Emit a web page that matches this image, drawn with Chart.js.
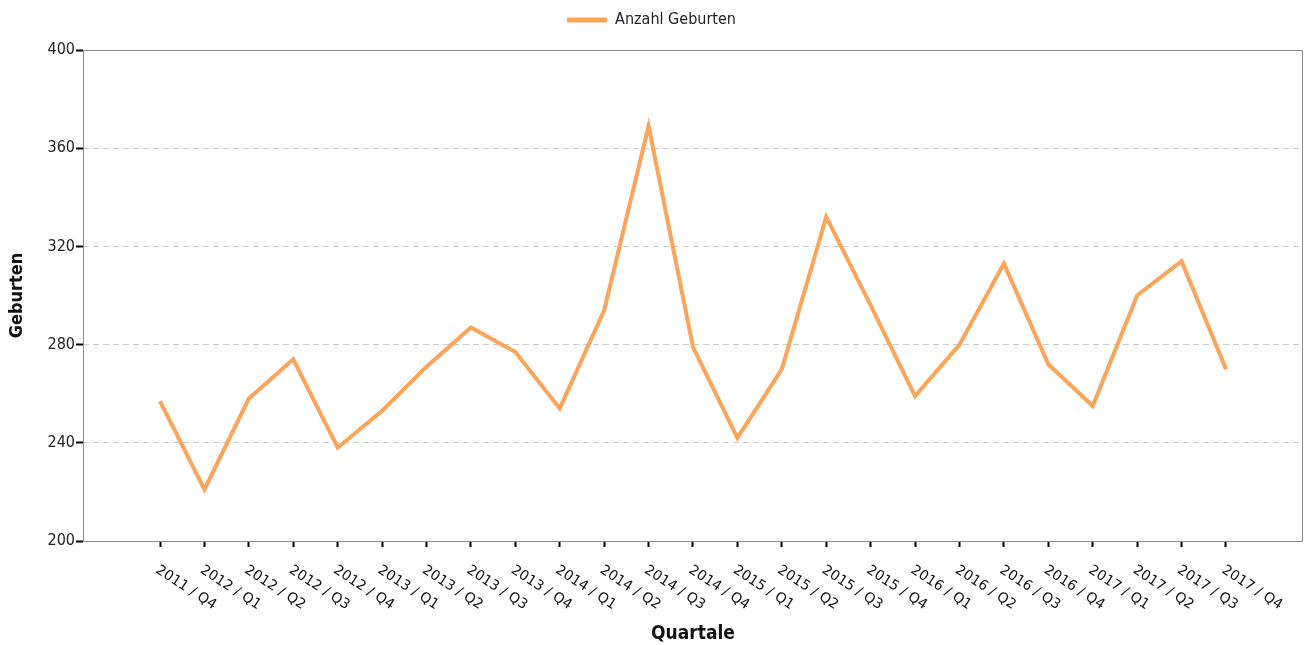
<!DOCTYPE html>
<html lang="de">
<head>
<meta charset="utf-8">
<title>Anzahl Geburten pro Quartal</title>
<script src="https://cdn.jsdelivr.net/npm/chart.js@4/dist/chart.umd.min.js"></script>
<style>
  html, body { margin: 0; padding: 0; background: #ffffff; }
  canvas { display: block; }
</style>
</head>
<body>
<canvas id="chart" width="1306" height="645"></canvas>
<script>
// Quarters shown on the x axis
const quarterLabels = [
  '2011 / Q4',
  '2012 / Q1', '2012 / Q2', '2012 / Q3', '2012 / Q4',
  '2013 / Q1', '2013 / Q2', '2013 / Q3', '2013 / Q4',
  '2014 / Q1', '2014 / Q2', '2014 / Q3', '2014 / Q4',
  '2015 / Q1', '2015 / Q2', '2015 / Q3', '2015 / Q4',
  '2016 / Q1', '2016 / Q2', '2016 / Q3', '2016 / Q4',
  '2017 / Q1', '2017 / Q2', '2017 / Q3', '2017 / Q4'
];

// Number of births per quarter
const births = [
  257,
  221, 258, 274, 238,
  253, 271, 287, 277,
  254, 294, 369, 279,
  242, 270, 332, 296,
  259, 280, 313, 272,
  255, 300, 314, 270
];

// Value axis ticks
const yTicks = [200, 240, 280, 320, 360, 400];

const COND = "'DejaVu Sans Condensed', 'Liberation Sans Narrow', 'Noto Sans', sans-serif";
const LINE_COLOR = '#faa55a';
const FRAME_COLOR = '#8c8c8c';
const GRID_COLOR = '#cccccc';

// side margin of the category axis, in category steps
const X_PAD = 1.734;

// plot frame around the chart area
const framePlugin = {
  id: 'plotFrame',
  beforeDatasetsDraw(chart) {
    const { ctx, chartArea: a } = chart;
    ctx.save();
    ctx.strokeStyle = FRAME_COLOR;
    ctx.lineWidth = 1;
    ctx.setLineDash([]);
    ctx.strokeRect(Math.round(a.left) + 0.5, Math.round(a.top) + 0.5,
                   Math.round(a.right - a.left) - 1, Math.round(a.bottom - a.top));
    ctx.restore();
  }
};

// quarter labels, slanted downward to the right below each tick
const quarterLabelPlugin = {
  id: 'quarterLabels',
  afterDraw(chart) {
    const { ctx } = chart;
    const xs = chart.scales.x;
    const angle = 33 * Math.PI / 180;
    ctx.save();
    ctx.font = "14px 'DejaVu Sans', Verdana, sans-serif";
    ctx.fillStyle = '#111111';
    ctx.textAlign = 'left';
    ctx.textBaseline = 'alphabetic';
    xs.ticks.forEach(t => {
      const x = xs.getPixelForValue(t.value);
      ctx.save();
      ctx.translate(x - 5, xs.top + 31);
      ctx.rotate(angle);
      ctx.fillText(quarterLabels[t.value], 0, 0);
      ctx.restore();
    });
    ctx.restore();
  }
};

// fixed legend band height above the plot
const legendHeightPlugin = {
  id: 'legendHeight',
  beforeLayout(chart) {
    const lg = chart.legend;
    if (lg && !lg._fixedFit) {
      const orig = lg.fit.bind(lg);
      lg.fit = function () { orig(); this.height = 50; };
      lg._fixedFit = true;
    }
  }
};

new Chart(document.getElementById('chart'), {
  type: 'line',
  data: {
    datasets: [{
      label: 'Anzahl Geburten',
      data: births.map((v, i) => ({ x: i, y: v })),
      borderColor: LINE_COLOR,
      backgroundColor: LINE_COLOR,
      borderWidth: 4,
      pointRadius: 0,
      pointHoverRadius: 0,
      tension: 0,
      fill: false
    }]
  },
  options: {
    responsive: false,
    animation: false,
    devicePixelRatio: 1,
    layout: { padding: { left: 0, right: 3, top: 0, bottom: 0 } },
    plugins: {
      tooltip: { enabled: false },
      legend: {
        position: 'top',
        align: 'center',
        labels: {
          boxWidth: 40,
          boxHeight: 5,
          padding: 12,
          color: '#222222',
          font: { family: COND, size: 16 },
          generateLabels(chart) {
            return Chart.defaults.plugins.legend.labels.generateLabels(chart)
              .map(item => Object.assign(item, { lineWidth: 0 }));
          }
        }
      }
    },
    scales: {
      x: {
        type: 'linear',
        min: -X_PAD,
        max: quarterLabels.length - 1 + X_PAD,
        afterBuildTicks(scale) {
          scale.ticks = quarterLabels.map((_, i) => ({ value: i }));
        },
        afterFit(scale) { scale.height = 104; },
        ticks: { display: false },
        grid: {
          drawOnChartArea: false,
          drawTicks: true,
          tickLength: 6,
          tickWidth: 2,
          tickColor: '#000000',
          tickBorderDash: []
        },
        border: { display: false },
        title: {
          display: true,
          text: 'Quartale',
          color: '#111111',
          font: { family: COND, size: 19, weight: 'bold' },
          padding: { top: 0, bottom: 0 }
        }
      },
      y: {
        type: 'linear',
        min: yTicks[0],
        max: yTicks[yTicks.length - 1],
        afterBuildTicks(scale) {
          scale.ticks = yTicks.map(v => ({ value: v }));
        },
        afterFit(scale) { scale.width = 83; },
        ticks: {
          padding: 1,
          color: '#222222',
          font: { family: COND, size: 16 }
        },
        grid: {
          drawTicks: true,
          tickLength: 7,
          tickWidth: 2,
          tickColor: '#000000',
          tickBorderDash: [],
          lineWidth: 1,
          color: ctx => (ctx.tick && (ctx.tick.value === yTicks[0] || ctx.tick.value === yTicks[yTicks.length - 1]))
            ? 'rgba(0,0,0,0)' : GRID_COLOR
        },
        border: { display: false, dash: [6, 4] },
        title: {
          display: true,
          text: 'Geburten',
          color: '#111111',
          font: { family: COND, size: 18, weight: 'bold' },
          padding: { top: 7, bottom: 0 }
        }
      }
    }
  },
  plugins: [legendHeightPlugin, framePlugin, quarterLabelPlugin]
});
</script>
</body>
</html>
